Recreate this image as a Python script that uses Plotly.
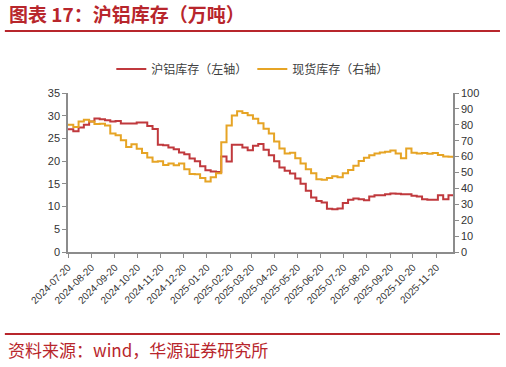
import pandas as pd
import plotly.graph_objects as go

# ---- data (weekly, 万吨) ----
dates = pd.date_range("2024-07-20", periods=74, freq="7D").strftime("%Y-%m-%d").tolist()

shfe_al = [27.0, 26.6, 27.4, 28.0, 28.7, 29.4, 29.2, 29.0, 28.7, 28.85,
           28.3, 28.3, 28.3, 28.5, 28.5, 27.75, 27.1, 23.6, 23.5, 23.0,
           22.6, 21.9, 21.5, 20.6, 20.0, 18.9, 18.0, 17.7, 17.6, 21.0,
           19.9, 23.6, 23.6, 23.0, 22.4, 23.4, 23.8, 22.5, 21.3, 20.0,
           18.6, 17.9, 17.3, 16.2, 15.0, 13.5, 12.0, 11.2, 10.9, 9.5,
           9.4, 9.6, 10.8, 11.5, 11.75, 11.6, 11.4, 12.2, 12.5, 12.5,
           12.7, 12.9, 12.8, 12.7, 12.7, 12.4, 12.2, 11.6, 11.5, 11.5,
           12.5, 11.6, 12.5, 12.4]

spot_al = [80.0, 78.6, 82.1, 83.2, 82.1, 80.5, 80.7, 79.6, 74.6, 73.4,
           70.3, 66.1, 67.8, 65.0, 62.3, 59.5, 56.8, 57.0, 54.7, 55.7,
           54.5, 55.7, 52.0, 49.0, 48.9, 46.5, 44.3, 47.0, 49.5, 69.0,
           79.5, 85.8, 88.5, 87.5, 86.0, 83.8, 81.0, 77.5, 74.5, 69.5,
           65.1, 62.0, 62.5, 58.9, 55.7, 52.0, 49.5, 45.8, 45.5, 46.5,
           47.6, 47.0, 49.5, 51.5, 54.2, 57.2, 59.2, 60.8, 62.0, 62.6,
           63.0, 63.8, 62.0, 58.9, 65.1, 62.5, 62.0, 62.3, 61.8, 62.3,
           61.0, 60.0, 59.9, 59.0]

tick_dates = ["2024-07-20", "2024-08-20", "2024-09-20", "2024-10-20", "2024-11-20",
              "2024-12-20", "2025-01-20", "2025-02-20", "2025-03-20", "2025-04-20",
              "2025-05-20", "2025-06-20", "2025-07-20", "2025-08-20", "2025-09-20",
              "2025-10-20", "2025-11-20"]

series_names = ["沪铝库存（左轴）", "现货库存（右轴）"]
title_text = "图表 17：沪铝库存（万吨）"
source_text = "资料来源：wind，华源证券研究所"

RED = "#C0393D"
GOLD = "#E6A425"
TITLE_RED = "#B8262C"
AXIS = "#8C8C8C"
CJK = "Noto Sans CJK SC"
LAT = "Liberation Sans, Arial, sans-serif"

fig = go.Figure()
fig.add_trace(go.Scatter(x=dates, y=shfe_al, name=series_names[0], mode="lines",
                         line=dict(color=RED, width=2, shape="hv"), yaxis="y"))
fig.add_trace(go.Scatter(x=dates, y=spot_al, name=series_names[1], mode="lines",
                         line=dict(color=GOLD, width=2, shape="hv"), yaxis="y2"))

fig.update_layout(
    width=506, height=367,
    margin=dict(l=68, r=53, t=93, b=115, pad=0),
    paper_bgcolor="white", plot_bgcolor="white",
    font=dict(family=LAT, size=11, color="#333333"),
    showlegend=True,
    legend=dict(orientation="h", x=0.48, y=1.151, xanchor="center", yanchor="middle",
                font=dict(family=CJK, size=12, color="#404040"),
                itemwidth=30, tracegroupgap=0, bgcolor="rgba(0,0,0,0)"),
    xaxis=dict(type="date", range=["2024-07-20", "2025-12-12"],
               tickvals=tick_dates, ticktext=tick_dates, tickangle=-45,
               tickfont=dict(family=LAT, size=10, color="#333333"),
               showgrid=False, zeroline=False, showline=True, linecolor=AXIS, linewidth=1.5,
               ticks="outside", ticklen=4, tickcolor=AXIS, tickwidth=1),
    yaxis=dict(range=[0, 35], dtick=5, showgrid=False, zeroline=False,
               showline=True, linecolor=AXIS, linewidth=1.5,
               ticks="outside", ticklen=4, tickcolor=AXIS, tickwidth=1,
               tickfont=dict(family=LAT, size=11, color="#333333")),
    yaxis2=dict(range=[0, 100], dtick=10, overlaying="y", side="right",
                showgrid=False, zeroline=False,
                showline=True, linecolor=AXIS, linewidth=1.5,
                ticks="outside", ticklen=4, tickcolor=AXIS, tickwidth=1,
                tickfont=dict(family=LAT, size=11, color="#333333")),
)

# header/footer rules
fig.add_shape(type="line", xref="paper", yref="paper", x0=-0.164, x1=1.122,
              y0=1.390, y1=1.390, line=dict(color=TITLE_RED, width=2))
fig.add_shape(type="line", xref="paper", yref="paper", x0=-0.164, x1=1.122,
              y0=-0.516, y1=-0.516, line=dict(color=TITLE_RED, width=2))

fig.add_annotation(text="<b>" + title_text + "</b>", xref="paper", yref="paper",
                   x=-0.158, y=1.497, xanchor="left", yanchor="middle", showarrow=False,
                   font=dict(family=CJK, size=19, color=TITLE_RED))
fig.add_annotation(text=source_text, xref="paper", yref="paper",
                   x=-0.161, y=-0.616, xanchor="left", yanchor="middle", showarrow=False,
                   font=dict(family=CJK, size=17, color=TITLE_RED))

fig.write_html("out.html", config={"displayModeBar": False},
               post_script="document.body.style.margin='0';")
